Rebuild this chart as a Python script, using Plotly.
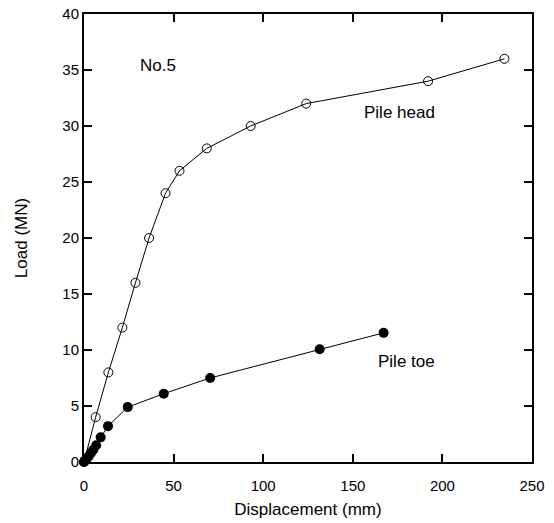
import plotly.graph_objects as go

head_disp = [0, 6.5, 13.6, 21.4, 28.7, 36.3, 45.5, 53.3, 68.5, 93, 124, 192, 234.6]
head_load = [0, 4, 8, 12, 16, 20, 24, 26, 28, 30, 32, 34, 36]

toe_disp = [0, 0.4, 1.5, 2.6, 3.9, 5.2, 6.8, 9.3, 13.4, 24.4, 44.5, 70.4, 131.5, 167.2]
toe_load = [0, 0.1, 0.3, 0.5, 0.8, 1.1, 1.5, 2.2, 3.2, 4.9, 6.1, 7.5, 10.07, 11.53]

x_ticks = [0, 50, 100, 150, 200, 250]
y_ticks = [0, 5, 10, 15, 20, 25, 30, 35, 40]

font = "Liberation Sans, Arial, sans-serif"

fig = go.Figure()
fig.add_trace(go.Scatter(
    x=head_disp, y=head_load, mode="lines+markers",
    line=dict(color="black", width=1),
    marker=dict(symbol="circle-open", size=9, color="black", line=dict(width=1)),
    name="Pile head", cliponaxis=False))
fig.add_trace(go.Scatter(
    x=toe_disp, y=toe_load, mode="lines+markers",
    line=dict(color="black", width=1),
    marker=dict(symbol="circle", size=10, color="black"),
    name="Pile toe", cliponaxis=False))

fig.add_annotation(x=41.3, y=35.4, text="No.5", showarrow=False, xanchor="center",
                   font=dict(family=font, size=17, color="black"))
fig.add_annotation(x=176, y=31.2, text="Pile head", showarrow=False, xanchor="center",
                   font=dict(family=font, size=17, color="black"))
fig.add_annotation(x=180, y=8.95, text="Pile toe", showarrow=False, xanchor="center",
                   font=dict(family=font, size=17, color="black"))

axis_common = dict(
    showgrid=False, zeroline=False, showline=True, linecolor="black", linewidth=2,
    mirror="ticks", ticks="inside", ticklen=8, tickwidth=1.5, tickcolor="black",
    tickfont=dict(family=font, size=15, color="black"), automargin=False,
)

fig.update_layout(
    width=554, height=523,
    margin=dict(l=84, r=22, t=14, b=61, autoexpand=False),
    plot_bgcolor="white", paper_bgcolor="white",
    showlegend=False,
    font=dict(family=font, size=15, color="black"),
    xaxis=dict(range=[0, 250], tickvals=x_ticks, ticklabelstandoff=9,
               title=dict(text="Displacement (mm)", font=dict(family=font, size=17), standoff=10),
               **axis_common),
    yaxis=dict(range=[0, 40], tickvals=y_ticks, ticklabelstandoff=0,
               title=dict(text="Load (MN)", font=dict(family=font, size=17), standoff=30),
               **axis_common),
)

fig.write_html("out.html")
